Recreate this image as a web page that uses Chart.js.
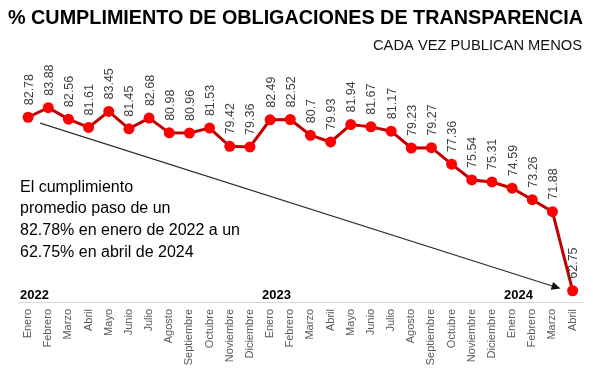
<!DOCTYPE html>
<html>
<head>
<meta charset="utf-8">
<script src="https://cdn.jsdelivr.net/npm/chart.js@4"></script>
<style>
html,body{margin:0;padding:0;background:#fff;}
#wrap{position:relative;width:593px;height:369px;}
</style>
</head>
<body>
<div id="wrap"><canvas id="c" width="593" height="369"></canvas></div>
<script>
const categories = ['Enero','Febrero','Marzo','Abril','Mayo','Junio','Julio','Agosto','Septiembre','Octubre','Noviembre','Diciembre',
  'Enero','Febrero','Marzo','Abril','Mayo','Junio','Julio','Agosto','Septiembre','Octubre','Noviembre','Diciembre',
  'Enero','Febrero','Marzo','Abril'];
const values = [82.78,83.88,82.56,81.61,83.45,81.45,82.68,80.98,80.96,81.53,79.42,79.36,
  82.49,82.52,80.7,79.93,81.94,81.67,81.17,79.23,79.27,77.36,75.54,75.31,
  74.59,73.26,71.88,62.75];
const valueLabels = values.map(v => String(v));
const yearIndex = [0,12,24];
const yearText = ['2022','2023','2024'];
const titleText = '% CUMPLIMIENTO DE OBLIGACIONES DE TRANSPARENCIA';
const subtitleText = 'CADA VEZ PUBLICAN MENOS';
const noteLines = ['El cumplimiento','promedio paso de un','82.78% en enero de 2022 a un','62.75% en abril de 2024'];
// arrow: from (category index, value) to (category index, value)
const arrowFrom = [0.6, 82.1];
const arrowTo = [26.4, 63.0];

const SANS = "'Liberation Sans', Arial, sans-serif";

function drawFitted(ctx, text, font, refText, refWidth, x, y, align){
  ctx.font = font;
  const sx = refWidth / ctx.measureText(refText).width;
  const w = ctx.measureText(text).width * sx;
  ctx.save();
  let left = x;
  if (align === 'right') left = x - w;
  ctx.translate(left, y);
  ctx.scale(sx, 1);
  ctx.textAlign = 'left';
  ctx.textBaseline = 'alphabetic';
  ctx.fillText(text, 0, 0);
  ctx.restore();
}

const overlay = {
  id: 'overlay',
  afterDatasetsDraw(chart){
    const ctx = chart.ctx;
    const meta = chart.getDatasetMeta(0);
    ctx.save();
    ctx.fillStyle = '#404040';
    ctx.font = '12.5px ' + SANS;
    ctx.textAlign = 'left';
    ctx.textBaseline = 'middle';
    meta.data.forEach((pt, i) => {
      ctx.save();
      ctx.translate(pt.x + 1, pt.y - 12);
      ctx.rotate(-Math.PI/2);
      ctx.fillText(valueLabels[i], 0, 0);
      ctx.restore();
    });
    ctx.restore();
  },
  afterDraw(chart){
    const ctx = chart.ctx;
    const xs = chart.scales.x, ys = chart.scales.y;
    ctx.save();
    ctx.fillStyle = '#000';
    drawFitted(ctx, titleText, 'bold 20.5px ' + SANS, titleText, 575, 8, 24, 'left');
    ctx.fillStyle = '#111';
    drawFitted(ctx, subtitleText, '14px ' + SANS, subtitleText, 209, 582, 50, 'right');
    ctx.fillStyle = '#000';
    noteLines.forEach((l, i) => drawFitted(ctx, l, '15.6px ' + SANS, noteLines[2], 220, 20, 191.7 + i*21.7, 'left'));
    ctx.font = 'bold 13px ' + SANS;
    ctx.textAlign = 'left'; ctx.textBaseline = 'alphabetic';
    yearIndex.forEach((idx, i) => {
      ctx.fillText(yearText[i], xs.getPixelForValue(idx) - 8, 299);
    });
    const x1 = xs.getPixelForValue(arrowFrom[0]), y1 = ys.getPixelForValue(arrowFrom[1]);
    const x2 = xs.getPixelForValue(arrowTo[0]), y2 = ys.getPixelForValue(arrowTo[1]);
    const ang = Math.atan2(y2-y1, x2-x1);
    ctx.strokeStyle = '#2b2b2b'; ctx.lineWidth = 1.1;
    ctx.beginPath(); ctx.moveTo(x1,y1);
    ctx.lineTo(x2 - 7*Math.cos(ang), y2 - 7*Math.sin(ang)); ctx.stroke();
    ctx.fillStyle = '#111';
    ctx.beginPath();
    ctx.moveTo(x2, y2);
    ctx.lineTo(x2 - 9*Math.cos(ang) + 4*Math.sin(ang), y2 - 9*Math.sin(ang) - 4*Math.cos(ang));
    ctx.lineTo(x2 - 9*Math.cos(ang) - 4*Math.sin(ang), y2 - 9*Math.sin(ang) + 4*Math.cos(ang));
    ctx.closePath(); ctx.fill();
    ctx.restore();
  }
};

new Chart(document.getElementById('c'), {
  type: 'line',
  data: {
    labels: categories,
    datasets: [{
      data: values,
      borderColor: '#C00000',
      borderWidth: 3,
      backgroundColor: '#FF0000',
      pointBackgroundColor: '#FF0000',
      pointBorderColor: '#FF0000',
      pointRadius: 5.5,
      pointBorderWidth: 0,
      tension: 0,
      fill: false
    }]
  },
  options: {
    responsive: false,
    animation: false,
    events: [],
    layout: { padding: { left: 18, right: 10, top: 40, bottom: 0 } },
    plugins: { legend: { display: false }, tooltip: { enabled: false }, title: { display: false } },
    scales: {
      x: {
        offset: true,
        grid: { display: false, drawTicks: false },
        border: { display: true, color: '#d9d9d9', width: 1 },
        ticks: {
          color: '#595959',
          font: { family: SANS, size: 11 },
          maxRotation: 90, minRotation: 90,
          autoSkip: false,
          padding: 7
        },
        afterFit(scale){ scale.height = 67; }
      },
      y: {
        display: false,
        min: 61.45,
        max: 91.7
      }
    }
  },
  plugins: [overlay]
});
</script>
</body>
</html>
